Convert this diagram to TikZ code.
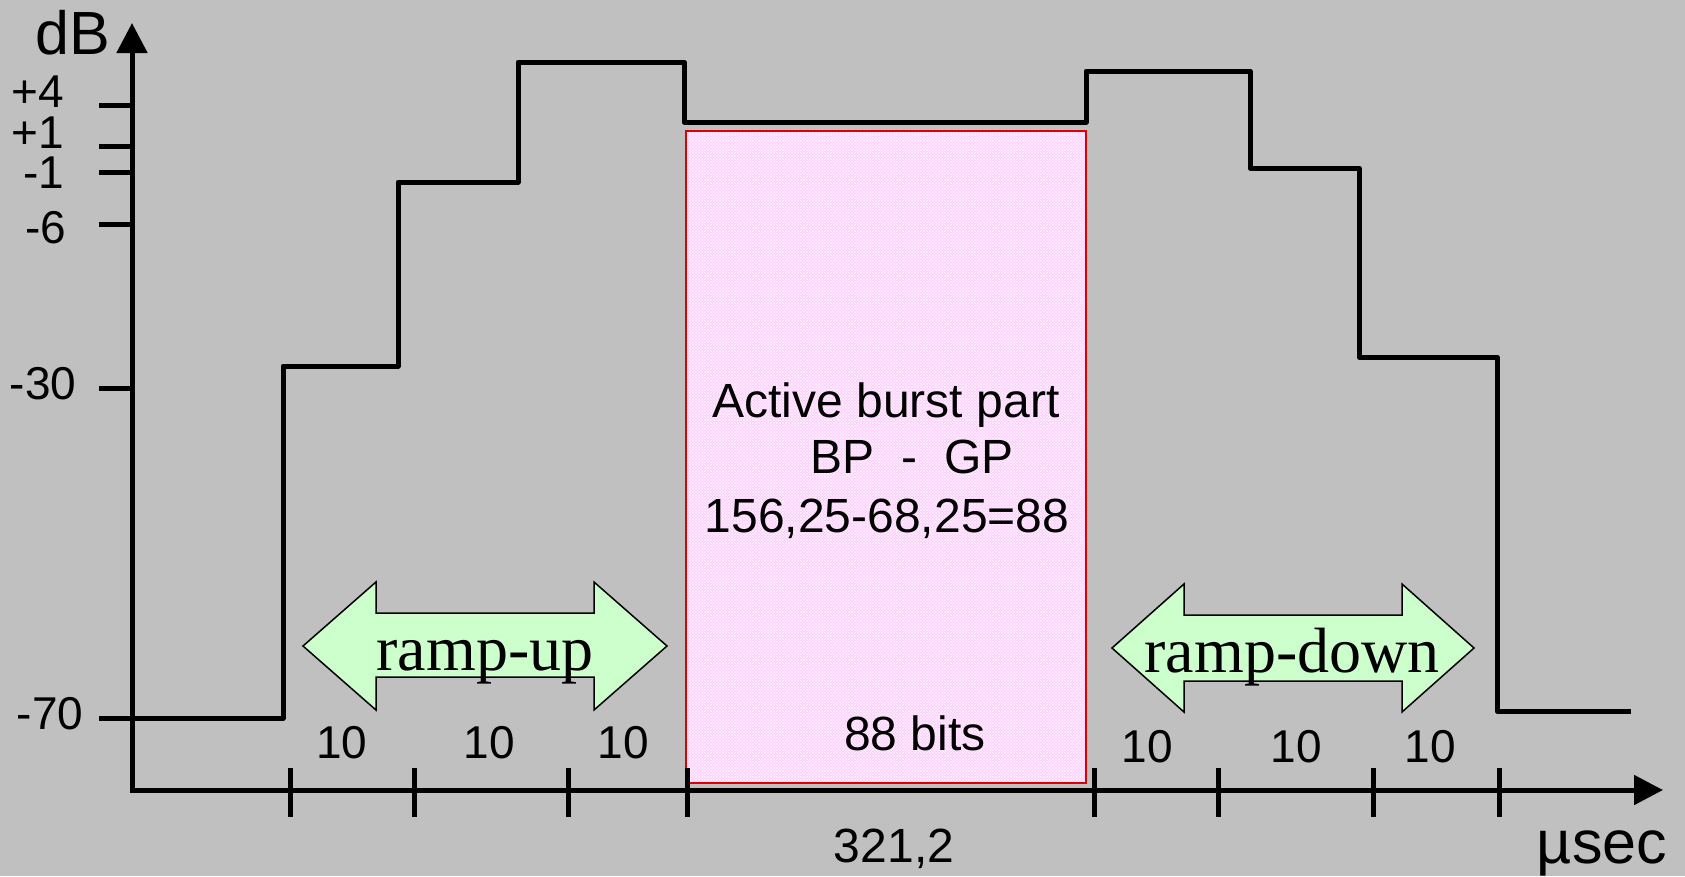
\documentclass[tikz,border=0pt]{standalone}
\usepackage{fontspec}
\setmainfont{Liberation Sans}
\newfontfamily\rampfont{Liberation Serif}
\usetikzlibrary{arrows.meta,patterns}

\definecolor{bggray}{HTML}{C0C0C0}
\definecolor{burstpink}{HTML}{FFCCFF}
\definecolor{burstred}{HTML}{E00000}
\definecolor{rampgreen}{HTML}{CCFFCC}

\tikzset{
  axisline/.style={line width=5pt, line join=miter},
  tickmark/.style={line width=5pt},
  wave/.style={line width=5pt, line join=round},
  ramparrow/.style={draw=black, line width=1.5pt, fill=rampgreen, line join=miter},
  lbl/.style={font=\fontsize{46}{50}\selectfont, inner sep=0pt, anchor=base},
  boxlbl/.style={font=\fontsize{48}{52}\selectfont, inner sep=0pt, anchor=base},
  biglbl/.style={font=\fontsize{61}{66}\selectfont, inner sep=0pt, anchor=base},
  ramplbl/.style={font=\rampfont\fontsize{64}{68}\selectfont, inner sep=0pt, anchor=base}
}

\begin{document}
\begin{tikzpicture}[x=1pt, y=-1pt]
  % canvas
  \fill[bggray] (0,0) rectangle (1685,876);
  \useasboundingbox (0,0) rectangle (1685,876);

  % power envelope of the burst
  \draw[wave] (132,718) -- (283,718) -- (283,366) -- (398,366) -- (398,182)
    -- (518,182) -- (518,62) -- (684,62) -- (684,122) -- (1086,122)
    -- (1086,71) -- (1250,71) -- (1250,168) -- (1359,168) -- (1359,357)
    -- (1497,357) -- (1497,711) -- (1631,711);

  % active part of the burst
  \fill[burstpink] (686,131) rectangle (1086,783);
  \fill[pattern=north east lines, pattern color=white!70!burstpink] (686,131) rectangle (1086,783);
  \fill[pattern=north west lines, pattern color=white!70!burstpink] (686,131) rectangle (1086,783);
  \draw[burstred, line width=2pt] (686,131) rectangle (1086,783);

  % ramp arrows
  \draw[ramparrow] (303,646) -- (376,582) -- (376,613) -- (594,613) -- (594,582)
    -- (667,646) -- (594,710) -- (594,677) -- (376,677) -- (376,710) -- cycle;
  \draw[ramparrow] (1112,648) -- (1184,584) -- (1184,615) -- (1402,615) -- (1402,584)
    -- (1474,648) -- (1402,712) -- (1402,681) -- (1184,681) -- (1184,712) -- cycle;

  % axes
  \coordinate (origin) at (132,790);
  \coordinate (ytop) at (132,23);
  \coordinate (xend) at (1663,790);
  \draw[axisline, {Triangle[length=30pt, width=30pt]}-{Triangle[length=29pt, width=29pt]}]
    (ytop) -- (origin) -- (xend);

  % level ticks
  \foreach \yy in {105,146,172,224,388,718}
    \draw[tickmark] (99,\yy) -- (132,\yy);
  % time ticks
  \foreach \xx in {290,414,568,687,1094,1218,1373,1499}
    \draw[tickmark] (\xx,768) -- (\xx,817);

  % level labels
  \node[biglbl] (ldb) at (73,54) {dB};
  \node[lbl] (lp4) at (38,107) {+4};
  \node[lbl] (lp1) at (38,148) {+1};
  \node[lbl] (lm1) at (44,188) {-1};
  \node[lbl] (lm6) at (46,243) {-6};
  \node[lbl] (lm30) at (43,399) {-30};
  \node[lbl] (lm70) at (50,729) {-70};

  % durations
  \node[lbl] (d1) at (342,758) {10};
  \node[lbl] (d2) at (489,758) {10};
  \node[lbl] (d3) at (623,758) {10};
  \node[lbl] (d4) at (1147,762) {10};
  \node[lbl] (d5) at (1296,762) {10};
  \node[lbl] (d6) at (1430,762) {10};
  \node[boxlbl] (bits) at (915,750) {88 bits};
  \node[boxlbl] (total) at (894,862) {321,2};
  \node[biglbl] (unit) at (1602,863) {µsec};

  % burst description
  \node[boxlbl] (act) at (886,417) {Active burst part};
  \node[boxlbl] (bpgp) at (912,473) {BP\ \ -\ \ GP};
  \node[boxlbl] (calc) at (887,532) {156,25-68,25=88};

  % ramp captions
  \node[ramplbl] (rup) at (485,670) {ramp-up};
  \node[ramplbl] (rdown) at (1292,672) {ramp-down};
\end{tikzpicture}
\end{document}
